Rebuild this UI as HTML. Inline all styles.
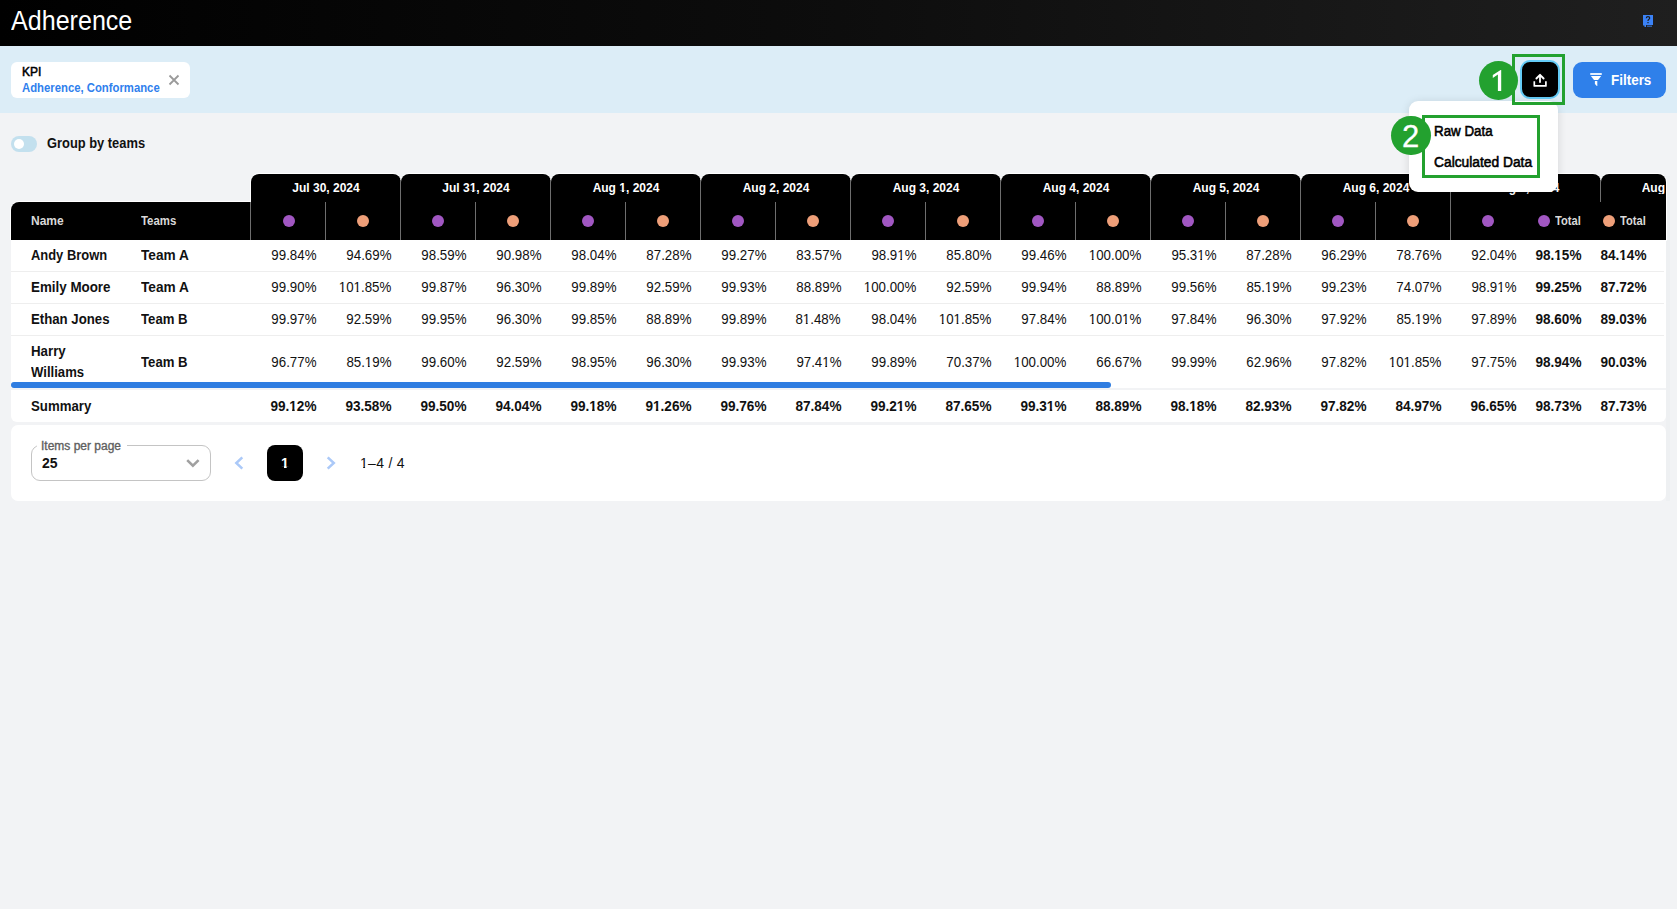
<!DOCTYPE html>
<html><head><meta charset="utf-8"><title>Adherence</title>
<style>
html,body{margin:0;padding:0;}
body{width:1677px;height:909px;overflow:hidden;position:relative;background:#f2f3f5;font-family:"Liberation Sans",sans-serif;}
.t{position:absolute;white-space:nowrap;}
div{position:absolute;}
.o4,.o7{display:inline-block;}
.o4{clip-path:polygon(0 -0.5em,100% -0.5em,100% 0.757em,0.3648em 0.757em,0.3648em 1.2em,0.2265em 1.2em,0.2265em 0.757em,0 0.757em);}
.o7{clip-path:polygon(0 -0.5em,100% -0.5em,100% 0.7295em,0.3956em 0.7295em,0.3956em 1.2em,0.2084em 1.2em,0.2084em 0.7295em,0 0.7295em);}
</style></head><body>
<div style="position:absolute;left:0px;top:0px;width:1677px;height:46px;background:linear-gradient(90deg,#000 0%,#0d0d0d 50%,#1f1f1f 100%);"></div>
<div class="t" style="top:8.14px;font-size:27px;line-height:27px;font-weight:400;color:#fff;left:11px;transform:scaleX(0.929);transform-origin:0 0;">Adherence</div>
<svg style="position:absolute;left:1642px;top:14px" width="12" height="14" viewBox="0 0 12 14">
<path d="M1 1 H11 V11 H4 V13 H2.5 V11.6 H1 Z" fill="#3b82f6"/>
<path d="M4.3 4.3 Q4.3 2.6 6 2.6 Q7.7 2.6 7.7 4.1 Q7.7 5 6.7 5.6 Q6 6 6 7" stroke="#1c1c1c" stroke-width="1.2" fill="none"/>
<rect x="5.4" y="8" width="1.2" height="1.2" fill="#1c1c1c"/>
<rect x="5" y="11.7" width="5" height="0.9" fill="#3b82f6"/>
</svg>
<div style="position:absolute;left:0px;top:46px;width:1677px;height:67px;background:#dcedf7;"></div>
<div style="position:absolute;left:11px;top:62px;width:179px;height:36px;background:#fff;border-radius:6px;"></div>
<div class="t" style="top:66.34px;font-size:12px;line-height:12px;font-weight:400;color:#000;left:22px;-webkit-text-stroke:0.5px #000;">KPI</div>
<div class="t" style="top:82.34px;font-size:12px;line-height:12px;font-weight:700;color:#2f80ed;left:22px;transform:scaleX(0.943);transform-origin:0 0;">Adherence, Conformance</div>
<svg style="position:absolute;left:168px;top:74px" width="12" height="12" viewBox="0 0 12 12">
<path d="M1.5 1.5 L10.5 10.5 M10.5 1.5 L1.5 10.5" stroke="#9a9a9a" stroke-width="1.8"/></svg>
<div style="position:absolute;left:1520px;top:59.9px;width:40px;height:39.6px;box-sizing:border-box;border:2px solid #64cbf6;border-radius:10px;background:#000;"></div>
<svg style="position:absolute;left:1532px;top:72px" width="16" height="16" viewBox="0 0 16 16">
<path d="M8 10.8 V3" stroke="#fff" stroke-width="1.8" fill="none"/>
<path d="M4.4 6.5 L8 2.8 L11.6 6.5" stroke="#fff" stroke-width="1.9" fill="none" stroke-linecap="round" stroke-linejoin="round"/>
<path d="M2.3 9.2 V13.9 H13.9 V9.2" stroke="#fff" stroke-width="1.7" fill="none" stroke-linejoin="round"/></svg>
<div style="position:absolute;left:1573px;top:62px;width:93px;height:36px;background:#2f80ea;border-radius:9px;"></div>
<svg style="position:absolute;left:1584px;top:66px" width="24" height="26" viewBox="0 0 24 26">
<rect x="6" y="7" width="12" height="2" rx="1" fill="#fff" fill-opacity="0.88"/>
<path d="M6.9 9.9 H17.2 L14 14 H10 Z" fill="#fff"/>
<path d="M10.9 14.9 H13.3 V20 H12.8 L10.9 18 Z" fill="#fff"/></svg>
<div class="t" style="top:73.45px;font-size:14px;line-height:14px;font-weight:700;color:#fff;left:1611px;transform:scaleX(0.96);transform-origin:0 0;">Filters</div>
<div style="position:absolute;left:11px;top:136px;width:26px;height:16px;background:#c3e0ee;border-radius:8px;"></div>
<div style="position:absolute;left:14px;top:139px;width:10px;height:10px;background:#fff;border-radius:50%;"></div>
<div class="t" style="top:135.95px;font-size:14px;line-height:14px;font-weight:700;color:#111;left:47px;transform:scaleX(0.92);transform-origin:0 0;">Group by teams</div>
<div style="position:absolute;left:1666px;top:176px;width:4px;height:325px;background:#eef0f2;"></div>
<div style="position:absolute;left:11px;top:240px;width:1655px;height:148px;background:#fff;"></div>
<div style="position:absolute;left:11px;top:202px;width:240px;height:38px;background:#000;border-top-left-radius:8px;box-shadow:0 -1px 0 0 #fff, -1px 0 0 0 #fff;"></div>
<div class="t" style="top:214.84px;font-size:12px;line-height:12px;font-weight:700;color:#d9d9d9;left:31px;">Name</div>
<div class="t" style="top:214.84px;font-size:12px;line-height:12px;font-weight:700;color:#d9d9d9;left:141px;transform:scaleX(0.95);transform-origin:0 0;">Teams</div>
<div style="position:absolute;left:251px;top:174px;width:150px;height:66px;background:#000;border-radius:8px 8px 0 0;box-shadow:0 0 0 1px #fff;"></div>
<div class="t" style="top:182.24px;font-size:12px;line-height:12px;font-weight:700;color:#fff;left:26px;width:600px;text-align:center;">Jul 30, 2024</div>
<div style="position:absolute;left:250px;top:202px;width:1px;height:38px;background:#6e6e6e;"></div>
<div style="position:absolute;left:325px;top:202px;width:1px;height:38px;background:#6e6e6e;"></div>
<div style="position:absolute;left:283px;top:215px;width:12px;height:12px;background:#a157c2;border-radius:50%;"></div>
<div style="position:absolute;left:357px;top:215px;width:12px;height:12px;background:#ee9f79;border-radius:50%;"></div>
<div style="position:absolute;left:401px;top:174px;width:150px;height:66px;background:#000;border-radius:8px 8px 0 0;box-shadow:0 0 0 1px #fff;"></div>
<div class="t" style="top:182.24px;font-size:12px;line-height:12px;font-weight:700;color:#fff;left:176px;width:600px;text-align:center;">Jul 3<span class="o7">1</span>, 2024</div>
<div style="position:absolute;left:400px;top:180px;width:1px;height:60px;background:#6e6e6e;"></div>
<div style="position:absolute;left:475px;top:202px;width:1px;height:38px;background:#6e6e6e;"></div>
<div style="position:absolute;left:432px;top:215px;width:12px;height:12px;background:#a157c2;border-radius:50%;"></div>
<div style="position:absolute;left:507px;top:215px;width:12px;height:12px;background:#ee9f79;border-radius:50%;"></div>
<div style="position:absolute;left:551px;top:174px;width:150px;height:66px;background:#000;border-radius:8px 8px 0 0;box-shadow:0 0 0 1px #fff;"></div>
<div class="t" style="top:182.24px;font-size:12px;line-height:12px;font-weight:700;color:#fff;left:326px;width:600px;text-align:center;">Aug <span class="o7">1</span>, 2024</div>
<div style="position:absolute;left:550px;top:180px;width:1px;height:60px;background:#6e6e6e;"></div>
<div style="position:absolute;left:625px;top:202px;width:1px;height:38px;background:#6e6e6e;"></div>
<div style="position:absolute;left:582px;top:215px;width:12px;height:12px;background:#a157c2;border-radius:50%;"></div>
<div style="position:absolute;left:657px;top:215px;width:12px;height:12px;background:#ee9f79;border-radius:50%;"></div>
<div style="position:absolute;left:701px;top:174px;width:150px;height:66px;background:#000;border-radius:8px 8px 0 0;box-shadow:0 0 0 1px #fff;"></div>
<div class="t" style="top:182.24px;font-size:12px;line-height:12px;font-weight:700;color:#fff;left:476px;width:600px;text-align:center;">Aug 2, 2024</div>
<div style="position:absolute;left:700px;top:180px;width:1px;height:60px;background:#6e6e6e;"></div>
<div style="position:absolute;left:775px;top:202px;width:1px;height:38px;background:#6e6e6e;"></div>
<div style="position:absolute;left:732px;top:215px;width:12px;height:12px;background:#a157c2;border-radius:50%;"></div>
<div style="position:absolute;left:807px;top:215px;width:12px;height:12px;background:#ee9f79;border-radius:50%;"></div>
<div style="position:absolute;left:851px;top:174px;width:150px;height:66px;background:#000;border-radius:8px 8px 0 0;box-shadow:0 0 0 1px #fff;"></div>
<div class="t" style="top:182.24px;font-size:12px;line-height:12px;font-weight:700;color:#fff;left:626px;width:600px;text-align:center;">Aug 3, 2024</div>
<div style="position:absolute;left:850px;top:180px;width:1px;height:60px;background:#6e6e6e;"></div>
<div style="position:absolute;left:925px;top:202px;width:1px;height:38px;background:#6e6e6e;"></div>
<div style="position:absolute;left:882px;top:215px;width:12px;height:12px;background:#a157c2;border-radius:50%;"></div>
<div style="position:absolute;left:957px;top:215px;width:12px;height:12px;background:#ee9f79;border-radius:50%;"></div>
<div style="position:absolute;left:1001px;top:174px;width:150px;height:66px;background:#000;border-radius:8px 8px 0 0;box-shadow:0 0 0 1px #fff;"></div>
<div class="t" style="top:182.24px;font-size:12px;line-height:12px;font-weight:700;color:#fff;left:776px;width:600px;text-align:center;">Aug 4, 2024</div>
<div style="position:absolute;left:1000px;top:180px;width:1px;height:60px;background:#6e6e6e;"></div>
<div style="position:absolute;left:1075px;top:202px;width:1px;height:38px;background:#6e6e6e;"></div>
<div style="position:absolute;left:1032px;top:215px;width:12px;height:12px;background:#a157c2;border-radius:50%;"></div>
<div style="position:absolute;left:1107px;top:215px;width:12px;height:12px;background:#ee9f79;border-radius:50%;"></div>
<div style="position:absolute;left:1151px;top:174px;width:150px;height:66px;background:#000;border-radius:8px 8px 0 0;box-shadow:0 0 0 1px #fff;"></div>
<div class="t" style="top:182.24px;font-size:12px;line-height:12px;font-weight:700;color:#fff;left:926px;width:600px;text-align:center;">Aug 5, 2024</div>
<div style="position:absolute;left:1150px;top:180px;width:1px;height:60px;background:#6e6e6e;"></div>
<div style="position:absolute;left:1225px;top:202px;width:1px;height:38px;background:#6e6e6e;"></div>
<div style="position:absolute;left:1182px;top:215px;width:12px;height:12px;background:#a157c2;border-radius:50%;"></div>
<div style="position:absolute;left:1257px;top:215px;width:12px;height:12px;background:#ee9f79;border-radius:50%;"></div>
<div style="position:absolute;left:1301px;top:174px;width:150px;height:66px;background:#000;border-radius:8px 8px 0 0;box-shadow:0 0 0 1px #fff;"></div>
<div class="t" style="top:182.24px;font-size:12px;line-height:12px;font-weight:700;color:#fff;left:1076px;width:600px;text-align:center;">Aug 6, 2024</div>
<div style="position:absolute;left:1300px;top:180px;width:1px;height:60px;background:#6e6e6e;"></div>
<div style="position:absolute;left:1375px;top:202px;width:1px;height:38px;background:#6e6e6e;"></div>
<div style="position:absolute;left:1332px;top:215px;width:12px;height:12px;background:#a157c2;border-radius:50%;"></div>
<div style="position:absolute;left:1407px;top:215px;width:12px;height:12px;background:#ee9f79;border-radius:50%;"></div>
<div style="position:absolute;left:1451px;top:174px;width:150px;height:66px;background:#000;border-radius:8px 8px 0 0;box-shadow:0 0 0 1px #fff;"></div>
<div class="t" style="top:182.24px;font-size:12px;line-height:12px;font-weight:700;color:#fff;left:1226px;width:600px;text-align:center;">Aug 7, 2024</div>
<div style="position:absolute;left:1450px;top:180px;width:1px;height:60px;background:#6e6e6e;"></div>
<div style="position:absolute;left:1482px;top:215px;width:12px;height:12px;background:#a157c2;border-radius:50%;"></div>
<div style="position:absolute;left:1557px;top:215px;width:12px;height:12px;background:#ee9f79;border-radius:50%;"></div>
<div style="position:absolute;left:1601px;top:174px;width:65px;height:66px;background:#000;border-radius:8px 8px 0 0;box-shadow:0 0 0 1px #fff;"></div>
<div style="position:absolute;left:1526px;top:202px;width:140px;height:38px;background:#000;"></div>
<div style="position:absolute;left:1600px;top:180px;width:1px;height:22px;background:#6e6e6e;"></div>
<div class="t" style="top:182.24px;font-size:12px;line-height:12px;font-weight:700;color:#fff;right:12px;overflow:hidden;">Aug</div>
<div style="position:absolute;left:1538px;top:215px;width:12px;height:12px;background:#a157c2;border-radius:50%;"></div>
<div class="t" style="top:214.84px;font-size:12px;line-height:12px;font-weight:700;color:#d9d9d9;left:1555px;transform:scaleX(0.93);transform-origin:0 0;">Total</div>
<div style="position:absolute;left:1603px;top:215px;width:12px;height:12px;background:#ee9f79;border-radius:50%;"></div>
<div class="t" style="top:214.84px;font-size:12px;line-height:12px;font-weight:700;color:#d9d9d9;left:1620px;transform:scaleX(0.93);transform-origin:0 0;">Total</div>
<div style="position:absolute;left:11px;top:271px;width:1653px;height:1px;background:#eeeeee;"></div>
<div style="position:absolute;left:11px;top:303px;width:1653px;height:1px;background:#eeeeee;"></div>
<div style="position:absolute;left:11px;top:335px;width:1653px;height:1px;background:#eeeeee;"></div>
<div class="t" style="top:248.15px;font-size:14px;line-height:14px;font-weight:700;color:#111;left:31px;transform:scaleX(0.923);transform-origin:0 0;">Andy Brown</div>
<div class="t" style="top:248.15px;font-size:14px;line-height:14px;font-weight:700;color:#111;left:141px;transform:scaleX(0.975);transform-origin:0 0;">Team A</div>
<div class="t" style="top:248.15px;font-size:14px;line-height:14px;font-weight:400;color:#111;right:1361px;transform:scaleX(0.95);transform-origin:100% 0;">99.84%</div>
<div class="t" style="top:248.15px;font-size:14px;line-height:14px;font-weight:400;color:#111;right:1286px;transform:scaleX(0.95);transform-origin:100% 0;">94.69%</div>
<div class="t" style="top:248.15px;font-size:14px;line-height:14px;font-weight:400;color:#111;right:1211px;transform:scaleX(0.95);transform-origin:100% 0;">98.59%</div>
<div class="t" style="top:248.15px;font-size:14px;line-height:14px;font-weight:400;color:#111;right:1136px;transform:scaleX(0.95);transform-origin:100% 0;">90.98%</div>
<div class="t" style="top:248.15px;font-size:14px;line-height:14px;font-weight:400;color:#111;right:1061px;transform:scaleX(0.95);transform-origin:100% 0;">98.04%</div>
<div class="t" style="top:248.15px;font-size:14px;line-height:14px;font-weight:400;color:#111;right:986px;transform:scaleX(0.95);transform-origin:100% 0;">87.28%</div>
<div class="t" style="top:248.15px;font-size:14px;line-height:14px;font-weight:400;color:#111;right:911px;transform:scaleX(0.95);transform-origin:100% 0;">99.27%</div>
<div class="t" style="top:248.15px;font-size:14px;line-height:14px;font-weight:400;color:#111;right:836px;transform:scaleX(0.95);transform-origin:100% 0;">83.57%</div>
<div class="t" style="top:248.15px;font-size:14px;line-height:14px;font-weight:400;color:#111;right:761px;transform:scaleX(0.95);transform-origin:100% 0;">98.9<span class="o4">1</span>%</div>
<div class="t" style="top:248.15px;font-size:14px;line-height:14px;font-weight:400;color:#111;right:686px;transform:scaleX(0.95);transform-origin:100% 0;">85.80%</div>
<div class="t" style="top:248.15px;font-size:14px;line-height:14px;font-weight:400;color:#111;right:611px;transform:scaleX(0.95);transform-origin:100% 0;">99.46%</div>
<div class="t" style="top:248.15px;font-size:14px;line-height:14px;font-weight:400;color:#111;right:536px;transform:scaleX(0.95);transform-origin:100% 0;"><span class="o4">1</span>00.00%</div>
<div class="t" style="top:248.15px;font-size:14px;line-height:14px;font-weight:400;color:#111;right:461px;transform:scaleX(0.95);transform-origin:100% 0;">95.3<span class="o4">1</span>%</div>
<div class="t" style="top:248.15px;font-size:14px;line-height:14px;font-weight:400;color:#111;right:386px;transform:scaleX(0.95);transform-origin:100% 0;">87.28%</div>
<div class="t" style="top:248.15px;font-size:14px;line-height:14px;font-weight:400;color:#111;right:311px;transform:scaleX(0.95);transform-origin:100% 0;">96.29%</div>
<div class="t" style="top:248.15px;font-size:14px;line-height:14px;font-weight:400;color:#111;right:236px;transform:scaleX(0.95);transform-origin:100% 0;">78.76%</div>
<div class="t" style="top:248.15px;font-size:14px;line-height:14px;font-weight:400;color:#111;right:161px;transform:scaleX(0.95);transform-origin:100% 0;">92.04%</div>
<div class="t" style="top:248.15px;font-size:14px;line-height:14px;font-weight:700;color:#111;right:96px;transform:scaleX(0.97);transform-origin:100% 0;">98.<span class="o7">1</span>5%</div>
<div class="t" style="top:248.15px;font-size:14px;line-height:14px;font-weight:700;color:#111;right:31px;transform:scaleX(0.97);transform-origin:100% 0;">84.<span class="o7">1</span>4%</div>
<div class="t" style="top:280.15px;font-size:14px;line-height:14px;font-weight:700;color:#111;left:31px;transform:scaleX(0.955);transform-origin:0 0;">Emily Moore</div>
<div class="t" style="top:280.15px;font-size:14px;line-height:14px;font-weight:700;color:#111;left:141px;transform:scaleX(0.975);transform-origin:0 0;">Team A</div>
<div class="t" style="top:280.15px;font-size:14px;line-height:14px;font-weight:400;color:#111;right:1361px;transform:scaleX(0.95);transform-origin:100% 0;">99.90%</div>
<div class="t" style="top:280.15px;font-size:14px;line-height:14px;font-weight:400;color:#111;right:1286px;transform:scaleX(0.95);transform-origin:100% 0;"><span class="o4">1</span>0<span class="o4">1</span>.85%</div>
<div class="t" style="top:280.15px;font-size:14px;line-height:14px;font-weight:400;color:#111;right:1211px;transform:scaleX(0.95);transform-origin:100% 0;">99.87%</div>
<div class="t" style="top:280.15px;font-size:14px;line-height:14px;font-weight:400;color:#111;right:1136px;transform:scaleX(0.95);transform-origin:100% 0;">96.30%</div>
<div class="t" style="top:280.15px;font-size:14px;line-height:14px;font-weight:400;color:#111;right:1061px;transform:scaleX(0.95);transform-origin:100% 0;">99.89%</div>
<div class="t" style="top:280.15px;font-size:14px;line-height:14px;font-weight:400;color:#111;right:986px;transform:scaleX(0.95);transform-origin:100% 0;">92.59%</div>
<div class="t" style="top:280.15px;font-size:14px;line-height:14px;font-weight:400;color:#111;right:911px;transform:scaleX(0.95);transform-origin:100% 0;">99.93%</div>
<div class="t" style="top:280.15px;font-size:14px;line-height:14px;font-weight:400;color:#111;right:836px;transform:scaleX(0.95);transform-origin:100% 0;">88.89%</div>
<div class="t" style="top:280.15px;font-size:14px;line-height:14px;font-weight:400;color:#111;right:761px;transform:scaleX(0.95);transform-origin:100% 0;"><span class="o4">1</span>00.00%</div>
<div class="t" style="top:280.15px;font-size:14px;line-height:14px;font-weight:400;color:#111;right:686px;transform:scaleX(0.95);transform-origin:100% 0;">92.59%</div>
<div class="t" style="top:280.15px;font-size:14px;line-height:14px;font-weight:400;color:#111;right:611px;transform:scaleX(0.95);transform-origin:100% 0;">99.94%</div>
<div class="t" style="top:280.15px;font-size:14px;line-height:14px;font-weight:400;color:#111;right:536px;transform:scaleX(0.95);transform-origin:100% 0;">88.89%</div>
<div class="t" style="top:280.15px;font-size:14px;line-height:14px;font-weight:400;color:#111;right:461px;transform:scaleX(0.95);transform-origin:100% 0;">99.56%</div>
<div class="t" style="top:280.15px;font-size:14px;line-height:14px;font-weight:400;color:#111;right:386px;transform:scaleX(0.95);transform-origin:100% 0;">85.<span class="o4">1</span>9%</div>
<div class="t" style="top:280.15px;font-size:14px;line-height:14px;font-weight:400;color:#111;right:311px;transform:scaleX(0.95);transform-origin:100% 0;">99.23%</div>
<div class="t" style="top:280.15px;font-size:14px;line-height:14px;font-weight:400;color:#111;right:236px;transform:scaleX(0.95);transform-origin:100% 0;">74.07%</div>
<div class="t" style="top:280.15px;font-size:14px;line-height:14px;font-weight:400;color:#111;right:161px;transform:scaleX(0.95);transform-origin:100% 0;">98.9<span class="o4">1</span>%</div>
<div class="t" style="top:280.15px;font-size:14px;line-height:14px;font-weight:700;color:#111;right:96px;transform:scaleX(0.97);transform-origin:100% 0;">99.25%</div>
<div class="t" style="top:280.15px;font-size:14px;line-height:14px;font-weight:700;color:#111;right:31px;transform:scaleX(0.97);transform-origin:100% 0;">87.72%</div>
<div class="t" style="top:312.15px;font-size:14px;line-height:14px;font-weight:700;color:#111;left:31px;transform:scaleX(0.943);transform-origin:0 0;">Ethan Jones</div>
<div class="t" style="top:312.15px;font-size:14px;line-height:14px;font-weight:700;color:#111;left:141px;transform:scaleX(0.94);transform-origin:0 0;">Team B</div>
<div class="t" style="top:312.15px;font-size:14px;line-height:14px;font-weight:400;color:#111;right:1361px;transform:scaleX(0.95);transform-origin:100% 0;">99.97%</div>
<div class="t" style="top:312.15px;font-size:14px;line-height:14px;font-weight:400;color:#111;right:1286px;transform:scaleX(0.95);transform-origin:100% 0;">92.59%</div>
<div class="t" style="top:312.15px;font-size:14px;line-height:14px;font-weight:400;color:#111;right:1211px;transform:scaleX(0.95);transform-origin:100% 0;">99.95%</div>
<div class="t" style="top:312.15px;font-size:14px;line-height:14px;font-weight:400;color:#111;right:1136px;transform:scaleX(0.95);transform-origin:100% 0;">96.30%</div>
<div class="t" style="top:312.15px;font-size:14px;line-height:14px;font-weight:400;color:#111;right:1061px;transform:scaleX(0.95);transform-origin:100% 0;">99.85%</div>
<div class="t" style="top:312.15px;font-size:14px;line-height:14px;font-weight:400;color:#111;right:986px;transform:scaleX(0.95);transform-origin:100% 0;">88.89%</div>
<div class="t" style="top:312.15px;font-size:14px;line-height:14px;font-weight:400;color:#111;right:911px;transform:scaleX(0.95);transform-origin:100% 0;">99.89%</div>
<div class="t" style="top:312.15px;font-size:14px;line-height:14px;font-weight:400;color:#111;right:836px;transform:scaleX(0.95);transform-origin:100% 0;">8<span class="o4">1</span>.48%</div>
<div class="t" style="top:312.15px;font-size:14px;line-height:14px;font-weight:400;color:#111;right:761px;transform:scaleX(0.95);transform-origin:100% 0;">98.04%</div>
<div class="t" style="top:312.15px;font-size:14px;line-height:14px;font-weight:400;color:#111;right:686px;transform:scaleX(0.95);transform-origin:100% 0;"><span class="o4">1</span>0<span class="o4">1</span>.85%</div>
<div class="t" style="top:312.15px;font-size:14px;line-height:14px;font-weight:400;color:#111;right:611px;transform:scaleX(0.95);transform-origin:100% 0;">97.84%</div>
<div class="t" style="top:312.15px;font-size:14px;line-height:14px;font-weight:400;color:#111;right:536px;transform:scaleX(0.95);transform-origin:100% 0;"><span class="o4">1</span>00.0<span class="o4">1</span>%</div>
<div class="t" style="top:312.15px;font-size:14px;line-height:14px;font-weight:400;color:#111;right:461px;transform:scaleX(0.95);transform-origin:100% 0;">97.84%</div>
<div class="t" style="top:312.15px;font-size:14px;line-height:14px;font-weight:400;color:#111;right:386px;transform:scaleX(0.95);transform-origin:100% 0;">96.30%</div>
<div class="t" style="top:312.15px;font-size:14px;line-height:14px;font-weight:400;color:#111;right:311px;transform:scaleX(0.95);transform-origin:100% 0;">97.92%</div>
<div class="t" style="top:312.15px;font-size:14px;line-height:14px;font-weight:400;color:#111;right:236px;transform:scaleX(0.95);transform-origin:100% 0;">85.<span class="o4">1</span>9%</div>
<div class="t" style="top:312.15px;font-size:14px;line-height:14px;font-weight:400;color:#111;right:161px;transform:scaleX(0.95);transform-origin:100% 0;">97.89%</div>
<div class="t" style="top:312.15px;font-size:14px;line-height:14px;font-weight:700;color:#111;right:96px;transform:scaleX(0.97);transform-origin:100% 0;">98.60%</div>
<div class="t" style="top:312.15px;font-size:14px;line-height:14px;font-weight:700;color:#111;right:31px;transform:scaleX(0.97);transform-origin:100% 0;">89.03%</div>
<div class="t" style="top:344.05px;font-size:14px;line-height:14px;font-weight:700;color:#111;left:31px;transform:scaleX(0.95);transform-origin:0 0;">Harry</div>
<div class="t" style="top:364.95px;font-size:14px;line-height:14px;font-weight:700;color:#111;left:31px;transform:scaleX(0.937);transform-origin:0 0;">Williams</div>
<div class="t" style="top:355.15px;font-size:14px;line-height:14px;font-weight:700;color:#111;left:141px;transform:scaleX(0.94);transform-origin:0 0;">Team B</div>
<div class="t" style="top:355.15px;font-size:14px;line-height:14px;font-weight:400;color:#111;right:1361px;transform:scaleX(0.95);transform-origin:100% 0;">96.77%</div>
<div class="t" style="top:355.15px;font-size:14px;line-height:14px;font-weight:400;color:#111;right:1286px;transform:scaleX(0.95);transform-origin:100% 0;">85.<span class="o4">1</span>9%</div>
<div class="t" style="top:355.15px;font-size:14px;line-height:14px;font-weight:400;color:#111;right:1211px;transform:scaleX(0.95);transform-origin:100% 0;">99.60%</div>
<div class="t" style="top:355.15px;font-size:14px;line-height:14px;font-weight:400;color:#111;right:1136px;transform:scaleX(0.95);transform-origin:100% 0;">92.59%</div>
<div class="t" style="top:355.15px;font-size:14px;line-height:14px;font-weight:400;color:#111;right:1061px;transform:scaleX(0.95);transform-origin:100% 0;">98.95%</div>
<div class="t" style="top:355.15px;font-size:14px;line-height:14px;font-weight:400;color:#111;right:986px;transform:scaleX(0.95);transform-origin:100% 0;">96.30%</div>
<div class="t" style="top:355.15px;font-size:14px;line-height:14px;font-weight:400;color:#111;right:911px;transform:scaleX(0.95);transform-origin:100% 0;">99.93%</div>
<div class="t" style="top:355.15px;font-size:14px;line-height:14px;font-weight:400;color:#111;right:836px;transform:scaleX(0.95);transform-origin:100% 0;">97.4<span class="o4">1</span>%</div>
<div class="t" style="top:355.15px;font-size:14px;line-height:14px;font-weight:400;color:#111;right:761px;transform:scaleX(0.95);transform-origin:100% 0;">99.89%</div>
<div class="t" style="top:355.15px;font-size:14px;line-height:14px;font-weight:400;color:#111;right:686px;transform:scaleX(0.95);transform-origin:100% 0;">70.37%</div>
<div class="t" style="top:355.15px;font-size:14px;line-height:14px;font-weight:400;color:#111;right:611px;transform:scaleX(0.95);transform-origin:100% 0;"><span class="o4">1</span>00.00%</div>
<div class="t" style="top:355.15px;font-size:14px;line-height:14px;font-weight:400;color:#111;right:536px;transform:scaleX(0.95);transform-origin:100% 0;">66.67%</div>
<div class="t" style="top:355.15px;font-size:14px;line-height:14px;font-weight:400;color:#111;right:461px;transform:scaleX(0.95);transform-origin:100% 0;">99.99%</div>
<div class="t" style="top:355.15px;font-size:14px;line-height:14px;font-weight:400;color:#111;right:386px;transform:scaleX(0.95);transform-origin:100% 0;">62.96%</div>
<div class="t" style="top:355.15px;font-size:14px;line-height:14px;font-weight:400;color:#111;right:311px;transform:scaleX(0.95);transform-origin:100% 0;">97.82%</div>
<div class="t" style="top:355.15px;font-size:14px;line-height:14px;font-weight:400;color:#111;right:236px;transform:scaleX(0.95);transform-origin:100% 0;"><span class="o4">1</span>0<span class="o4">1</span>.85%</div>
<div class="t" style="top:355.15px;font-size:14px;line-height:14px;font-weight:400;color:#111;right:161px;transform:scaleX(0.95);transform-origin:100% 0;">97.75%</div>
<div class="t" style="top:355.15px;font-size:14px;line-height:14px;font-weight:700;color:#111;right:96px;transform:scaleX(0.97);transform-origin:100% 0;">98.94%</div>
<div class="t" style="top:355.15px;font-size:14px;line-height:14px;font-weight:700;color:#111;right:31px;transform:scaleX(0.97);transform-origin:100% 0;">90.03%</div>
<div style="position:absolute;left:11px;top:382px;width:1100px;height:6px;background:#2f7de1;border-radius:3px;"></div>
<div style="position:absolute;left:11px;top:390px;width:1655px;height:32px;background:#fff;border-radius:0 0 6px 6px;"></div>
<div class="t" style="top:398.75px;font-size:14px;line-height:14px;font-weight:700;color:#111;left:31px;transform:scaleX(0.944);transform-origin:0 0;">Summary</div>
<div class="t" style="top:398.75px;font-size:14px;line-height:14px;font-weight:700;color:#111;right:1360.5px;transform:scaleX(0.97);transform-origin:100% 0;">99.<span class="o7">1</span>2%</div>
<div class="t" style="top:398.75px;font-size:14px;line-height:14px;font-weight:700;color:#111;right:1285.5px;transform:scaleX(0.97);transform-origin:100% 0;">93.58%</div>
<div class="t" style="top:398.75px;font-size:14px;line-height:14px;font-weight:700;color:#111;right:1210.5px;transform:scaleX(0.97);transform-origin:100% 0;">99.50%</div>
<div class="t" style="top:398.75px;font-size:14px;line-height:14px;font-weight:700;color:#111;right:1135.5px;transform:scaleX(0.97);transform-origin:100% 0;">94.04%</div>
<div class="t" style="top:398.75px;font-size:14px;line-height:14px;font-weight:700;color:#111;right:1060.5px;transform:scaleX(0.97);transform-origin:100% 0;">99.<span class="o7">1</span>8%</div>
<div class="t" style="top:398.75px;font-size:14px;line-height:14px;font-weight:700;color:#111;right:985.5px;transform:scaleX(0.97);transform-origin:100% 0;">9<span class="o7">1</span>.26%</div>
<div class="t" style="top:398.75px;font-size:14px;line-height:14px;font-weight:700;color:#111;right:910.5px;transform:scaleX(0.97);transform-origin:100% 0;">99.76%</div>
<div class="t" style="top:398.75px;font-size:14px;line-height:14px;font-weight:700;color:#111;right:835.5px;transform:scaleX(0.97);transform-origin:100% 0;">87.84%</div>
<div class="t" style="top:398.75px;font-size:14px;line-height:14px;font-weight:700;color:#111;right:760.5px;transform:scaleX(0.97);transform-origin:100% 0;">99.2<span class="o7">1</span>%</div>
<div class="t" style="top:398.75px;font-size:14px;line-height:14px;font-weight:700;color:#111;right:685.5px;transform:scaleX(0.97);transform-origin:100% 0;">87.65%</div>
<div class="t" style="top:398.75px;font-size:14px;line-height:14px;font-weight:700;color:#111;right:610.5px;transform:scaleX(0.97);transform-origin:100% 0;">99.3<span class="o7">1</span>%</div>
<div class="t" style="top:398.75px;font-size:14px;line-height:14px;font-weight:700;color:#111;right:535.5px;transform:scaleX(0.97);transform-origin:100% 0;">88.89%</div>
<div class="t" style="top:398.75px;font-size:14px;line-height:14px;font-weight:700;color:#111;right:460.5px;transform:scaleX(0.97);transform-origin:100% 0;">98.<span class="o7">1</span>8%</div>
<div class="t" style="top:398.75px;font-size:14px;line-height:14px;font-weight:700;color:#111;right:385.5px;transform:scaleX(0.97);transform-origin:100% 0;">82.93%</div>
<div class="t" style="top:398.75px;font-size:14px;line-height:14px;font-weight:700;color:#111;right:310.5px;transform:scaleX(0.97);transform-origin:100% 0;">97.82%</div>
<div class="t" style="top:398.75px;font-size:14px;line-height:14px;font-weight:700;color:#111;right:235.5px;transform:scaleX(0.97);transform-origin:100% 0;">84.97%</div>
<div class="t" style="top:398.75px;font-size:14px;line-height:14px;font-weight:700;color:#111;right:160.5px;transform:scaleX(0.97);transform-origin:100% 0;">96.65%</div>
<div class="t" style="top:398.75px;font-size:14px;line-height:14px;font-weight:700;color:#111;right:96px;transform:scaleX(0.97);transform-origin:100% 0;">98.73%</div>
<div class="t" style="top:398.75px;font-size:14px;line-height:14px;font-weight:700;color:#111;right:31px;transform:scaleX(0.97);transform-origin:100% 0;">87.73%</div>
<div style="position:absolute;left:11px;top:425px;width:1655px;height:76px;background:#fff;border-radius:7px;"></div>
<div style="position:absolute;left:31px;top:445px;width:180px;height:36px;box-sizing:border-box;border:1px solid #c4c4c4;border-radius:9px;"></div>
<div style="position:absolute;left:37px;top:440px;width:90px;height:8px;background:#fff;"></div>
<div class="t" style="top:439.74px;font-size:12px;line-height:12px;font-weight:400;color:#5f5f5f;left:41px;-webkit-text-stroke:0.35px #5f5f5f;">Items per page</div>
<div class="t" style="top:456.05px;font-size:14px;line-height:14px;font-weight:700;color:#111;left:42px;">25</div>
<svg style="position:absolute;left:186px;top:458px" width="14" height="10" viewBox="0 0 14 10">
<path d="M1.2 2.1 L6.9 7.6 L12.6 2.1" stroke="#a0a0a0" stroke-width="2.6" fill="none"/></svg>
<svg style="position:absolute;left:233px;top:455px" width="12" height="16" viewBox="0 0 12 16">
<path d="M9.3 2.3 L3.3 8 L9.3 13.7" stroke="#abc9f8" stroke-width="2.5" fill="none"/></svg>
<div style="position:absolute;left:267px;top:445px;width:36px;height:36px;background:#000;border-radius:8px;"></div>
<div class="t" style="top:455.95px;font-size:14px;line-height:14px;font-weight:700;color:#fff;left:-15px;width:600px;text-align:center;"><span class="o7">1</span></div>
<svg style="position:absolute;left:325px;top:455px" width="12" height="16" viewBox="0 0 12 16">
<path d="M2.7 2.3 L8.8 8 L2.7 13.7" stroke="#abc9f8" stroke-width="2.5" fill="none"/></svg>
<div class="t" style="top:455.95px;font-size:14px;line-height:14px;font-weight:400;color:#111;letter-spacing:0.3px;left:360px;"><span class="o4">1</span>–4 / 4</div>
<div style="position:absolute;left:1409px;top:101px;width:149px;height:91px;background:#fff;border-radius:9px;box-shadow:0 1px 10px rgba(0,0,0,0.12);"></div>
<div class="t" style="top:124.05px;font-size:14px;line-height:14px;font-weight:400;color:#000;left:1434px;transform:scaleX(0.955);transform-origin:0 0;-webkit-text-stroke:0.55px #000;">Raw Data</div>
<div class="t" style="top:154.95px;font-size:14px;line-height:14px;font-weight:400;color:#000;left:1434px;transform:scaleX(0.985);transform-origin:0 0;-webkit-text-stroke:0.55px #000;">Calculated Data</div>
<div style="position:absolute;left:1512px;top:54px;width:53px;height:51px;box-sizing:border-box;border:3px solid #23a12f;"></div>
<div style="position:absolute;left:1422px;top:115px;width:118px;height:63px;box-sizing:border-box;border:3px solid #23a12f;"></div>
<div style="position:absolute;left:1478.5px;top:60.5px;width:39px;height:39px;background:#23a12f;border-radius:50%;"></div>
<svg style="position:absolute;left:1478px;top:60px" width="40" height="40" viewBox="0 0 40 40"><path d="M23.2 9.9 V31.1 H19.9 V14.6 L14.8 17.9 V15.1 L22.6 9.9 Z" fill="#fff"/></svg>
<div style="position:absolute;left:1391px;top:115.5px;width:39.5px;height:39.5px;background:#23a12f;border-radius:50%;"></div>
<div class="t" style="top:120.86px;font-size:31px;line-height:31px;font-weight:400;color:#fff;left:1110.6px;width:600px;text-align:center;transform:scaleX(1.0);transform-origin:50% 0;-webkit-text-stroke:0.3px #fff;">2</div>
</body></html>
